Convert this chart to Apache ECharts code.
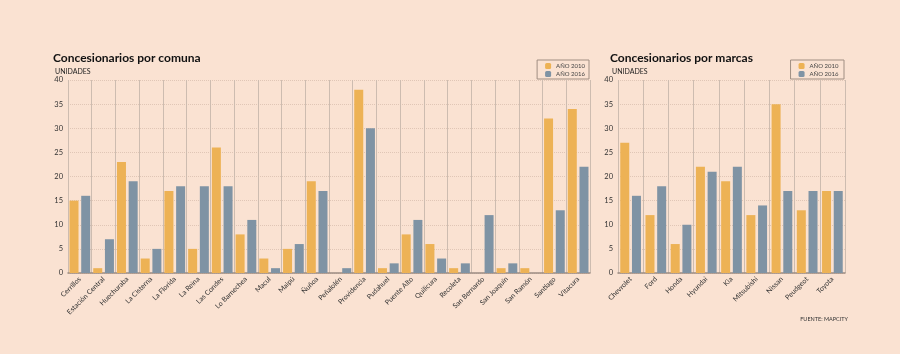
<!DOCTYPE html>
<html>
<head>
<meta charset="utf-8">
<script src="https://cdn.jsdelivr.net/npm/echarts@6/dist/echarts.min.js"></script>
<style>
  html, body { margin: 0; padding: 0; background: #fae2d2; }
  #chart { width: 900px; height: 354px; }
</style>
</head>
<body>
<div id="chart"></div>
<script>
// comunas
const comunas = ['Cerrillos', 'Estación Central', 'Huechuraba', 'La Cisterna', 'La Florida', 'La Reina',
  'Las Condes', 'Lo Barnechea', 'Macul', 'Maipú', 'Ñuñoa', 'Peñalolén', 'Providencia', 'Pudahuel',
  'Puente Alto', 'Quilicura', 'Recoleta', 'San Bernardo', 'San Joaquín', 'San Ramón', 'Santiago', 'Vitacura']
const comuna2010 = [15, 1, 23, 3, 17, 5, 26, 8, 3, 5, 19, 0, 38, 1, 8, 6, 1, 0, 1, 1, 32, 34]
const comuna2016 = [16, 7, 19, 5, 18, 18, 18, 11, 1, 6, 17, 1, 30, 2, 11, 3, 2, 12, 2, 0, 13, 22]

// marcas
const marcas = ['Chevrolet', 'Ford', 'Honda', 'Hyundai', 'Kia', 'Mitsubishi', 'Nissan', 'Peudgeot', 'Toyota']
const marca2010 = [27, 12, 6, 22, 19, 12, 35, 13, 17]
const marca2016 = [16, 18, 10, 21, 22, 14, 17, 17, 17]

const yTicks = [0, 5, 10, 15, 20, 25, 30, 35, 40]

const orange = '#edb255'
const blue = '#7f93a4'
const font = 'Lato, "Open Sans", sans-serif'

const chart = echarts.init(document.getElementById('chart'))

function xAxisFor(data, gridIndex) {
  return {
    type: 'category',
    gridIndex: gridIndex,
    data: data,
    axisLine: { lineStyle: { color: '#9c8c82', width: 1.5 } },
    axisTick: { show: false },
    splitLine: { show: true, interval: 0, lineStyle: { color: '#cdbcb0', width: 1 } },
    axisLabel: { rotate: 45, interval: 0, fontSize: 7, color: '#333', fontFamily: font, margin: 5 }
  }
}
function yAxisFor(gridIndex) {
  return {
    type: 'value',
    gridIndex: gridIndex,
    min: yTicks[0],
    max: yTicks[yTicks.length - 1],
    interval: 5,
    axisLine: { show: false },
    axisTick: { show: false },
    splitLine: { lineStyle: { color: '#e0c6b6', type: [1, 1] } },
    axisLabel: { fontSize: 7.5, color: '#333', fontFamily: font, margin: 5 }
  }
}
function legendFor(right, top, names) {
  return {
    right: right,
    top: top,
    orient: 'vertical',
    data: names,
    itemWidth: 6,
    itemHeight: 6,
    itemGap: 2,
    padding: [3, 4, 2, 8],
    borderColor: '#a08e82',
    borderWidth: 1,
    textStyle: { fontSize: 6, color: '#444', fontFamily: font }
  }
}
function barSeries(name, data, color, idx) {
  return {
    name: name,
    type: 'bar',
    xAxisIndex: idx,
    yAxisIndex: idx,
    data: data,
    barWidth: 9,
    barGap: '30%',
    itemStyle: { color: color }
  }
}

chart.setOption({
  backgroundColor: '#fae2d2',
  animation: false,
  title: [
    {
      text: 'Concesionarios por comuna', left: 48, top: 47,
      textStyle: { fontSize: 12, fontWeight: 'bold', color: '#111', fontFamily: font }
    },
    {
      text: 'UNIDADES', left: 50, top: 63,
      textStyle: { fontSize: 7, fontWeight: 'normal', color: '#222', fontFamily: font }
    },
    {
      text: 'Concesionarios por marcas', left: 605, top: 47,
      textStyle: { fontSize: 12, fontWeight: 'bold', color: '#111', fontFamily: font }
    },
    {
      text: 'UNIDADES', left: 607, top: 63,
      textStyle: { fontSize: 7, fontWeight: 'normal', color: '#222', fontFamily: font }
    },
    {
      text: 'FUENTE: MAPCITY', right: 47, top: 311,
      textStyle: { fontSize: 5.5, fontWeight: 'normal', color: '#333', fontFamily: font }
    }
  ],
  legend: [
    legendFor(311, 60, ['AÑO 2010', 'AÑO 2016']),
    legendFor(56, 60, ['AÑO 2010 ', 'AÑO 2016 '])
  ],
  grid: [
    { left: 68, right: 310, top: 80, bottom: 81 },
    { left: 618, right: 55, top: 80, bottom: 81 }
  ],
  xAxis: [xAxisFor(comunas, 0), xAxisFor(marcas, 1)],
  yAxis: [yAxisFor(0), yAxisFor(1)],
  series: [
    barSeries('AÑO 2010', comuna2010, orange, 0),
    barSeries('AÑO 2016', comuna2016, blue, 0),
    barSeries('AÑO 2010 ', marca2010, orange, 1),
    barSeries('AÑO 2016 ', marca2016, blue, 1)
  ]
})
</script>
</body>
</html>
